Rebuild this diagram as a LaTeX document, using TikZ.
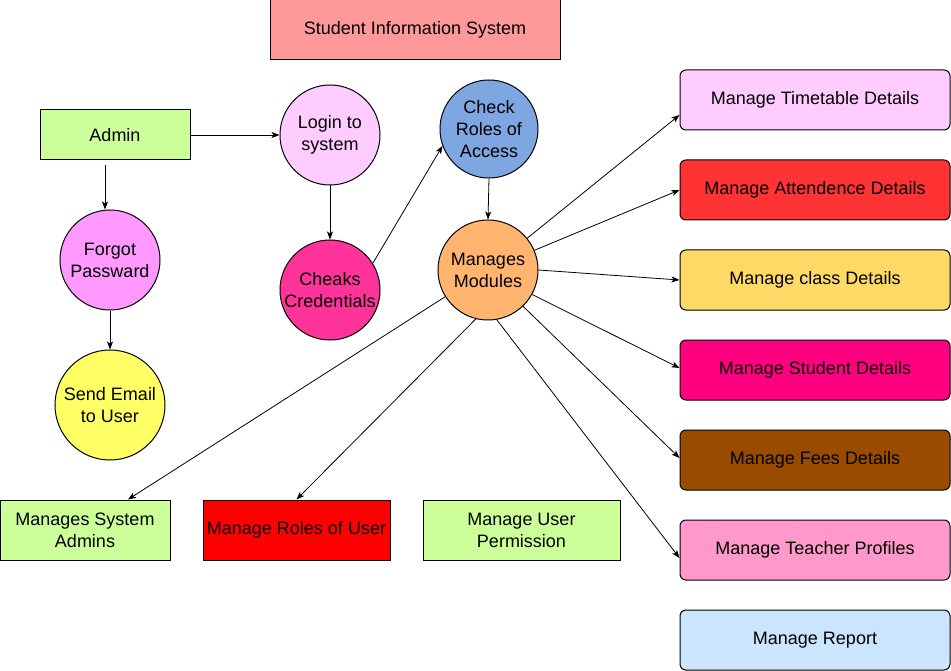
\documentclass[tikz,border=0pt]{standalone}
\usepackage{fontspec}
\setmainfont{Liberation Sans}
\usetikzlibrary{arrows.meta,shapes.geometric}
\definecolor{cTitle}{HTML}{FF9999}
\definecolor{cGreen}{HTML}{CCFF99}
\definecolor{cLogin}{HTML}{FFCCFF}
\definecolor{cForgot}{HTML}{FF99FF}
\definecolor{cEmail}{HTML}{FFFF66}
\definecolor{cCheaks}{HTML}{FF3399}
\definecolor{cRoles}{HTML}{7EA6E0}
\definecolor{cMod}{HTML}{FFB570}
\definecolor{cTime}{HTML}{FFCCFF}
\definecolor{cAtt}{HTML}{FF3333}
\definecolor{cClass}{HTML}{FFD966}
\definecolor{cStud}{HTML}{FF0080}
\definecolor{cFees}{HTML}{994C00}
\definecolor{cTeach}{HTML}{FF99CC}
\definecolor{cRep}{HTML}{CCE5FF}
\definecolor{cRed}{HTML}{FF0000}
\tikzset{
  base/.style={draw=black, line width=1pt, font=\fontsize{18}{22}\selectfont, align=center, inner sep=0pt},
  rbox/.style={base, rectangle, minimum width=#1},
  rbox/.default=150pt,
  rr/.style={base, rectangle, rounded corners=6pt, minimum width=270pt, minimum height=60pt},
  circ/.style={base, ellipse, inner sep=-40pt, minimum width=#1, minimum height=#1},
  conn/.style={line width=0.8pt, -{Stealth[length=8pt,width=6pt,inset=2pt]}},
}
\begin{document}
\begin{tikzpicture}[x=1pt,y=-1pt]
\useasboundingbox (0,0) rectangle (951,671);
% title
\node[rbox=290pt, minimum height=60pt, fill=cTitle] (title) at (415,30) {Student Information System};
% left
\node[rbox=150pt, minimum height=50pt, fill=cGreen] (admin) at (115,135) {Admin};
\node[circ=100pt, fill=cLogin] (login) at (330,135) {Login to\\system};
\node[circ=100pt, fill=cForgot] (forgot) at (110,260) {Forgot\\Passward};
\node[circ=110pt, fill=cEmail] (email) at (110,405) {Send Email\\to User};
\node[circ=100pt, fill=cCheaks] (cheaks) at (330,290) {Cheaks\\Credentials};
\node[circ=98pt, fill=cRoles] (roles) at (489,129) {Check\\Roles of\\Access};
\node[circ=100pt, fill=cMod] (mod) at (488,270) {Manages\\Modules};
% right boxes
\node[rr, fill=cTime] (tt) at (815,100) {Manage Timetable Details};
\node[rr, fill=cAtt] (att) at (815,190) {Manage Attendence Details};
\node[rr, fill=cClass] (cls) at (815,280) {Manage class Details};
\node[rr, fill=cStud] (stu) at (815,370) {Manage Student Details};
\node[rr, fill=cFees] (fees) at (815,460) {Manage Fees Details};
\node[rr, fill=cTeach] (tea) at (815,550) {Manage Teacher Profiles};
\node[rr, fill=cRep] (rep) at (815,640) {Manage Report};
% bottom boxes
\node[rbox=170pt, minimum height=60pt, fill=cGreen] (sa) at (85,530) {Manages System\\Admins};
\node[rbox=187pt, minimum height=60pt, fill=cRed] (mru) at (296.5,530) {Manage Roles of User};
\node[rbox=197pt, minimum height=60pt, fill=cGreen] (mup) at (521.5,530) {Manage User\\Permission};
% connectors
\draw[conn] (admin.east) -- (login.west);
\draw[conn] ([xshift=-10pt,yshift=-5pt]admin.south) -- ([xshift=-5pt]forgot.north);
\draw[conn] (forgot.south) -- (email.north);
\draw[conn] (login.south) -- (cheaks.north);
\draw[conn] (cheaks.32) -- (roles.200);
\draw[conn] (roles.south) -- (mod.north);
\draw[conn] (mod.39) -- ([yshift=-15pt]tt.west);
\draw[conn] (mod.23) -- (att.west);
\draw[conn] (mod.0) -- (cls.west);
\draw[conn] (mod.-29) -- ([yshift=2pt]stu.west);
\draw[conn] (mod.-46) -- ([yshift=2pt]fees.west);
\draw[conn] (mod.-80) -- ([yshift=-8pt]tea.west);
\draw[conn] (mod.212) -- ([xshift=43pt]sa.north);
\draw[conn] (mod.256) -- (mru.north);
\end{tikzpicture}
\end{document}
